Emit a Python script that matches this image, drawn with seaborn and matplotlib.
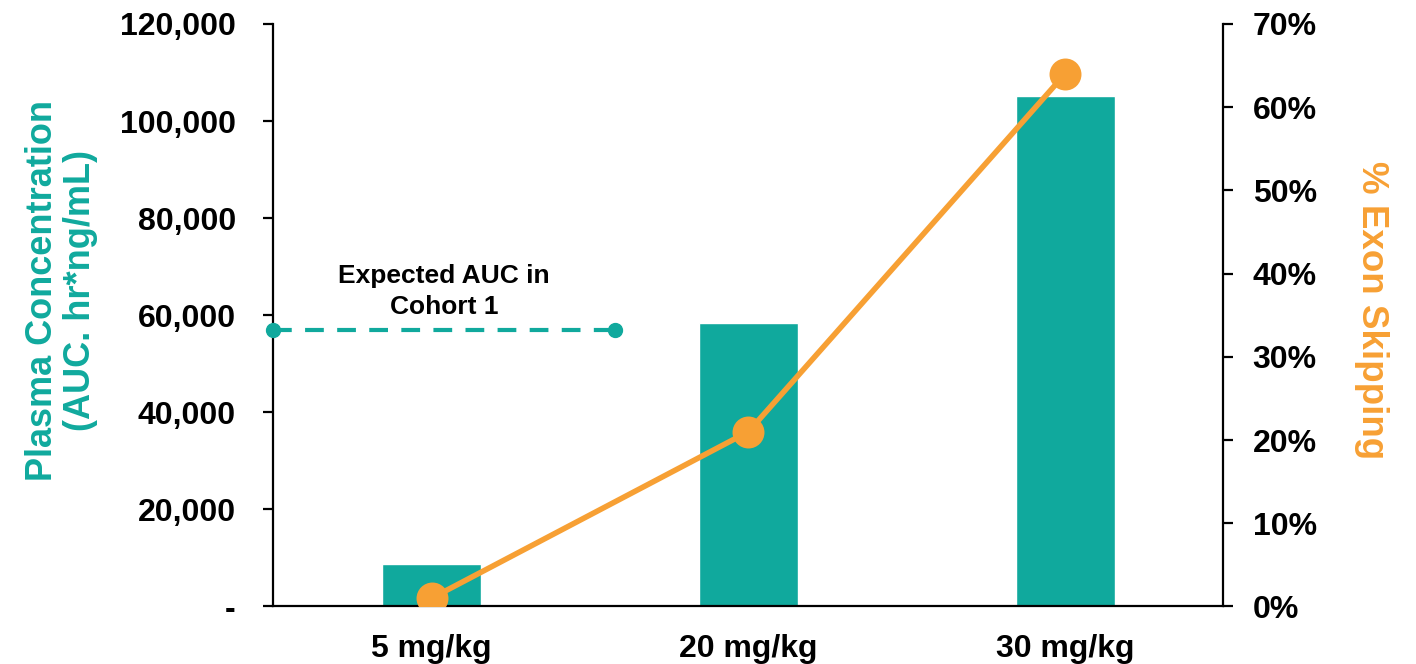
import matplotlib
matplotlib.use("Agg")
import matplotlib.pyplot as plt
import seaborn as sns
import pandas as pd
from matplotlib.ticker import FuncFormatter, MultipleLocator

# ---- data ----
doses = ["5 mg/kg", "20 mg/kg", "30 mg/kg"]
auc_values = [8800, 58300, 105100]
exon_skipping = [1.0, 21.0, 64.0]
expected_auc = 57000
expected_auc_span = [-0.5, 0.58]
expected_label = "Expected AUC in\nCohort 1"

TEAL = "#10A99D"
ORANGE = "#F7A034"

sns.set_theme(style="white")
plt.rcParams["font.family"] = ["Liberation Sans", "DejaVu Sans"]
plt.rcParams["font.weight"] = "bold"

fig = plt.figure(figsize=(14.16, 6.64), dpi=100)
ax = fig.add_axes([0.193, 0.0866, 0.671, 0.8773])

df = pd.DataFrame({"dose": doses, "auc": auc_values, "pct": exon_skipping})

sns.barplot(data=df, x="dose", y="auc", color=TEAL, saturation=1,
            width=0.313, ax=ax)

ax.set_ylim(0, 120000)
ax.set_xlim(-0.5, 2.5)
ax.yaxis.set_major_locator(MultipleLocator(20000))
ax.yaxis.set_major_formatter(FuncFormatter(lambda v, p: "-" if v == 0 else f"{int(v):,}"))

# expected AUC reference
ax.plot(expected_auc_span, [expected_auc, expected_auc], color=TEAL, lw=3,
        dashes=(4.5, 3.2), marker="o", markersize=10, clip_on=False, zorder=5)
ax.text(0.04, 64900, expected_label, ha="center", va="center",
        fontsize=19, fontweight="bold", color="black", linespacing=1.4)

ax2 = ax.twinx()
sns.pointplot(data=df, x="dose", y="pct", color=ORANGE, ax=ax2,
              markersize=20, linewidth=4, errorbar=None)
ax2.set_ylim(0, 70)
ax2.set_xlim(-0.5, 2.5)
ax2.yaxis.set_major_locator(MultipleLocator(10))
ax2.yaxis.set_major_formatter(FuncFormatter(lambda v, p: f"{int(round(v))}%"))

for a in (ax, ax2):
    a.spines["top"].set_visible(False)
    for s in ["left", "right", "bottom"]:
        a.spines[s].set_color("black")
        a.spines[s].set_linewidth(1.6)

ax.spines["right"].set_visible(False)
ax2.spines["left"].set_visible(False)
ax2.spines["bottom"].set_visible(False)

ax.tick_params(axis="y", which="major", direction="out", length=7, width=1.6,
               pad=20, labelsize=23, left=True, colors="black")
ax.tick_params(axis="x", length=0, pad=20, labelsize=23, colors="black")
ax2.tick_params(axis="y", which="major", direction="out", length=7, width=1.6,
                pad=14, labelsize=23, right=True, colors="black")
for lab in ax.get_xticklabels() + ax.get_yticklabels() + ax2.get_yticklabels():
    lab.set_fontweight("bold")

ax.set_xlabel("")
ax.set_ylabel("Plasma Concentration\n(AUC. hr*ng/mL)", color=TEAL, fontsize=26,
              fontweight="bold", linespacing=1.1)
ax.yaxis.set_label_coords(-0.185, 0.543)
ax2.set_ylabel("% Exon Skipping", color=ORANGE, fontsize=26.5, fontweight="bold",
               rotation=270, va="bottom")
ax2.yaxis.set_label_coords(1.137, 0.509)

ax.set_zorder(1)
ax2.set_zorder(2)
ax.patch.set_visible(False)
ax2.patch.set_visible(False)

fig.savefig("out.png", dpi=100, facecolor="white")
